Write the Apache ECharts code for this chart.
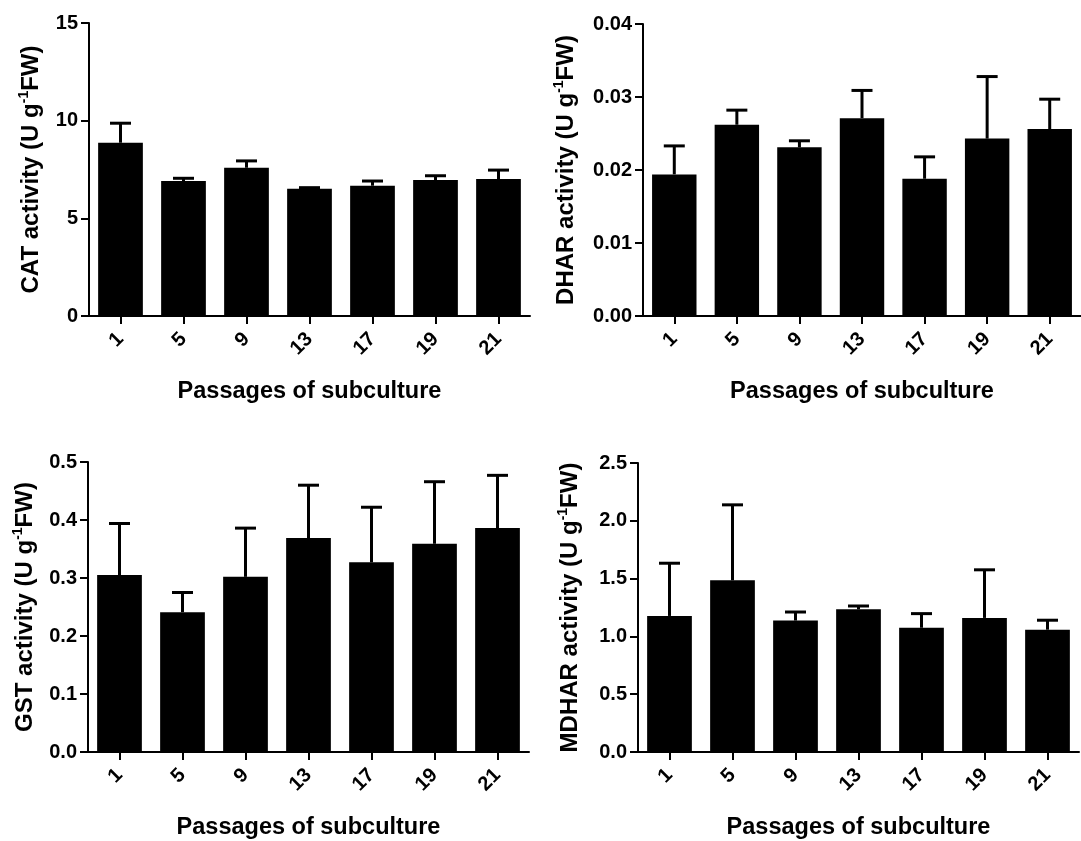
<!DOCTYPE html>
<html>
<head>
<meta charset="utf-8">
<script src="https://cdn.jsdelivr.net/npm/echarts@6/dist/echarts.min.js"></script>
<style>html,body{margin:0;padding:0;background:#fff}#c{width:1081px;height:841px}</style>
</head>
<body>
<div id="c"></div>
<script>
const categories = ['1', '5', '9', '13', '17', '19', '21'];

const catMean = [8.87, 6.91, 7.59, 6.52, 6.67, 6.96, 7.01];
const catErr  = [1.00, 0.14, 0.35, 0.05, 0.24, 0.22, 0.46];

const dharMean = [0.0194, 0.0262, 0.0231, 0.0271, 0.0188, 0.0243, 0.0256];
const dharErr  = [0.0039, 0.0020, 0.0009, 0.0038, 0.0030, 0.0085, 0.0041];

const gstMean = [0.305, 0.241, 0.302, 0.369, 0.327, 0.359, 0.386];
const gstErr  = [0.089, 0.034, 0.084, 0.091, 0.095, 0.107, 0.091];

const mdharMean = [1.177, 1.485, 1.137, 1.234, 1.075, 1.160, 1.058];
const mdharErr  = [0.456, 0.653, 0.074, 0.029, 0.122, 0.416, 0.082];

const yTitles = ['CAT activity (U g', 'DHAR activity (U g', 'GST activity (U g', 'MDHAR activity (U g'];
const xTitle = 'Passages of subculture';

const FONT = 'Liberation Sans, Arial, sans-serif';

const panels = [
  {mean: catMean, err: catErr, min: 0, max: 15, interval: 5, dec: 0, title: yTitles[0],
   grid: {left: 89, top: 23, width: 441, height: 293}, nameGap: 44},
  {mean: dharMean, err: dharErr, min: 0, max: 0.04, interval: 0.01, dec: 2, title: yTitles[1],
   grid: {left: 643, top: 24, width: 438, height: 292}, nameGap: 63},
  {mean: gstMean, err: gstErr, min: 0, max: 0.5, interval: 0.1, dec: 1, title: yTitles[2],
   grid: {left: 88, top: 462, width: 441, height: 292}, nameGap: 49},
  {mean: mdharMean, err: mdharErr, min: 0, max: 2.5, interval: 0.5, dec: 1, title: yTitles[3],
   grid: {left: 638, top: 463, width: 441, height: 292}, nameGap: 54}
];

const grids = [], xAxes = [], yAxes = [], series = [];
const axisLine = {show: true, lineStyle: {color: '#000', width: 2}};

panels.forEach((p, i) => {
  grids.push(p.grid);
  xAxes.push({
    type: 'category', gridIndex: i, data: categories,
    axisLine: axisLine,
    axisTick: {show: true, alignWithLabel: true, length: 8, lineStyle: {color: '#000', width: 2}},
    axisLabel: {rotate: 45, interval: 0, margin: 20, color: '#000', fontSize: 20, fontWeight: 'bold', fontFamily: FONT},
    name: xTitle, nameLocation: 'middle', nameGap: 64,
    nameTextStyle: {color: '#000', fontSize: 23.5, fontWeight: 'bold', fontFamily: FONT}
  });
  yAxes.push({
    type: 'value', gridIndex: i, min: p.min, max: p.max, interval: p.interval,
    splitLine: {show: false},
    axisLine: axisLine,
    axisTick: {show: true, length: 8, lineStyle: {color: '#000', width: 2}},
    axisLabel: {margin: 11, color: '#000', fontSize: 20, fontWeight: 'bold', fontFamily: FONT,
      formatter: v => v.toFixed(p.dec)},
    name: '{a|' + p.title + '}{s|-1}{a|FW)}', nameLocation: 'middle', nameRotate: 90,
    nameGap: p.nameGap,
    nameTextStyle: {
      color: '#000', fontWeight: 'bold', fontFamily: FONT,
      rich: {
        a: {fontSize: 24, fontWeight: 'bold', fontFamily: FONT, color: '#000', lineHeight: 28},
        s: {fontSize: 14, fontWeight: 'bold', fontFamily: FONT, color: '#000', lineHeight: 15, verticalAlign: 'top'}
      }
    }
  });
  series.push({
    type: 'bar', xAxisIndex: i, yAxisIndex: i, data: p.mean, barWidth: '71%',
    itemStyle: {color: '#000'}, silent: true, z: 3
  });
  series.push({
    type: 'custom', xAxisIndex: i, yAxisIndex: i, z: 2, silent: true,
    data: p.mean.map((m, k) => [k, m, m + p.err[k]]),
    renderItem: (params, api) => {
      const base = api.coord([api.value(0), api.value(1)]);
      const top = api.coord([api.value(0), api.value(2)]);
      const hw = 10.5;
      const style = {stroke: '#000', lineWidth: 3, fill: null};
      return {
        type: 'group',
        children: [
          {type: 'line', shape: {x1: base[0], y1: base[1], x2: top[0], y2: top[1]}, style: style},
          {type: 'line', shape: {x1: top[0] - hw, y1: top[1], x2: top[0] + hw, y2: top[1]}, style: style}
        ]
      };
    }
  });
});

const chart = echarts.init(document.getElementById('c'), null, {renderer: 'canvas'});
chart.setOption({
  backgroundColor: '#fff',
  animation: false,
  grid: grids, xAxis: xAxes, yAxis: yAxes, series: series
});
</script>
</body>
</html>
